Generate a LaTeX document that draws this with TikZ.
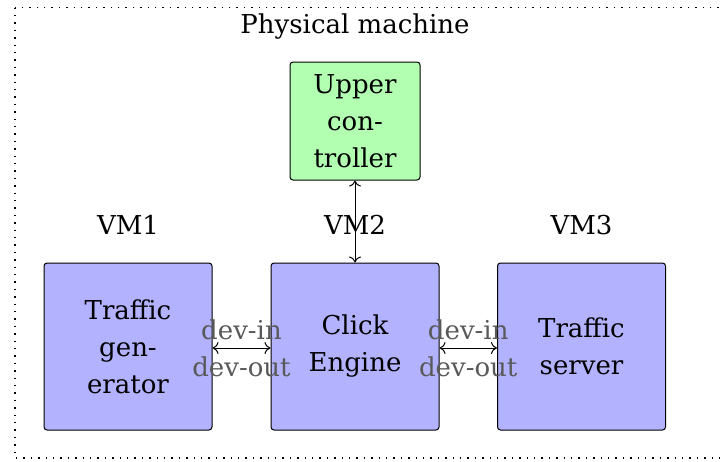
\documentclass[tikz,border=0pt]{standalone}
\usepackage{fontspec}
\setmainfont{DejaVu Serif}
\usetikzlibrary{arrows.meta,calc}
\tikzset{
  base/.style={font=\fontsize{13}{18.5}\selectfont},
  box/.style={base, draw=black, line width=0.5pt, rounded corners=1.5pt, align=center, inner sep=0pt},
  vmbox/.style={box, fill=blue!30, minimum width=84pt, minimum height=83.5pt},
  ctrlbox/.style={box, fill=green!30, minimum width=65pt, minimum height=59pt},
  lbl/.style={base, inner sep=0pt},
  devlbl/.style={base, text=black!65, inner sep=0pt},
  link/.style={line width=0.5pt, {To[length=3pt,width=6pt]}-{To[length=3pt,width=6pt]}},
  frame/.style={line width=0.7pt, dash pattern=on 0.7pt off 3pt},
}
\begin{document}
\begin{tikzpicture}[x=0.5pt,y=-0.5pt]
\useasboundingbox (0,0) rectangle (722,461);
\draw[frame] (15,7.5) rectangle (760,458);
\node[lbl] (pm) at (355,27) {Physical machine};
\node[ctrlbox] (uc) at (355,121) {Upper\\con-\\troller};
\node[lbl] (l1) at (128,225) {VM1};
\node[lbl] (l2) at (355,225) {VM2};
\node[lbl] (l3) at (581.5,225) {VM3};
\node[vmbox] (vm1) at (128,346.5) {Traffic\\gen-\\erator};
\node[vmbox] (vm2) at (355,346.5) {Click\\Engine};
\node[vmbox] (vm3) at (581.5,346.5) {Traffic\\server};
\draw[link] (uc.south) -- (vm2.north);
\draw[link] (vm1.east |- 0,348) coordinate (a1) -- (vm2.west |- 0,348) coordinate (a2);
\draw[link] (vm2.east |- 0,348) coordinate (b1) -- (vm3.west |- 0,348) coordinate (b2);
\node[devlbl] (di1) at ($(a1)!0.5!(a2)+(0,-18)$) {dev-in};
\node[devlbl] (do1) at ($(a1)!0.5!(a2)+(0,19)$) {dev-out};
\node[devlbl] (di2) at ($(b1)!0.5!(b2)+(0,-18)$) {dev-in};
\node[devlbl] (do2) at ($(b1)!0.5!(b2)+(0,19)$) {dev-out};
\end{tikzpicture}
\end{document}
